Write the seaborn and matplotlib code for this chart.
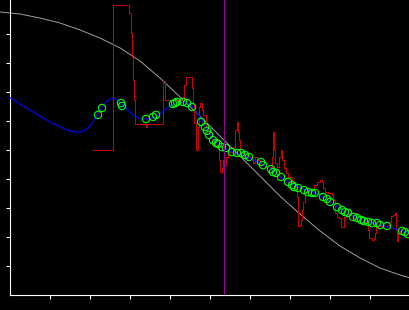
import matplotlib
matplotlib.use("Agg")
import matplotlib.pyplot as plt
import seaborn as sns

# ---------------- data ----------------
# reference (gray) curve
gray_x = [-2.5, 2.5, 7.5, 12.5, 17.5, 22.5, 27.5, 32.5, 37.5, 42.5, 47.5, 52.5,
          57.5, 62.5, 67.5, 72.5, 77.5, 82.5, 87.5, 92.5, 97.5, 100.0]
gray_y = [97.6, 96.9, 95.5, 93.8, 91.4, 88.6, 85.2, 80.7, 74.8, 68.3, 61.7, 54.8,
          47.9, 41.0, 34.1, 27.9, 22.1, 16.9, 12.8, 9.3, 6.9, 5.9]

# smoothed (blue) curve
blue_x = [0, 2.5, 5.75, 10, 14.25, 16.25, 18, 19.5, 20.75, 21.75, 23.25, 24.5, 25.5,
          26.5, 28.25, 29.5, 30.75, 32, 34.25, 36.75, 38.25, 40, 41.75, 43.75, 45.5,
          47.5, 49.25, 50.75, 52.5, 55, 58.75, 62.5, 65, 67.5, 70, 72.5, 76.25, 78.75,
          81.25, 83.75, 86.25, 89.5, 92.5, 95.5, 98, 100]
blue_y = [68.0, 65.9, 63.1, 59.7, 56.9, 56.2, 56.2, 57.6, 59.7, 62.1, 65.2, 67.2, 67.8,
          67.6, 65.5, 63.8, 62.1, 61.0, 60.7, 61.4, 63.4, 65.2, 66.4, 66.6, 65.2,
          61.4, 57.2, 53.8, 51.4, 49.7, 47.9, 45.5, 43.8, 40.7, 38.6, 36.9, 35.2, 33.4,
          31.0, 28.6, 26.9, 25.2, 24.1, 23.1, 22.1, 21.0]

# sample points (green circles)
pts_x = [22, 23, 27.75, 28, 34, 35.75, 36.5, 40.75, 41.25, 41.75, 43.25, 44.25, 45.5,
         47.75, 48.75, 49.25, 49.75, 50.75, 51.5, 52, 53, 54, 55.5, 56.75, 57.75, 58.75,
         59.75, 62.75, 63.25, 65.25, 65.75, 66.5, 67.75, 69.5, 70.5, 71, 72, 73.5, 74.5,
         75.5, 76.25, 78.25, 79.25, 80, 81.75, 83, 83.75, 84.5, 85.75, 86.75, 87.75,
         88.5, 89.5, 90.5, 91.75, 92.5, 94.25, 98, 98.75, 99.5]
pts_y = [62.1, 64.5, 66.2, 65.2, 60.7, 61.4, 62.1, 65.9, 66.2, 66.6, 66.6, 66.2, 64.8,
         59.7, 57.9, 56.6, 55.2, 53.4, 52.4, 52.1, 51.0, 50.7, 49.3, 49.0, 49.0, 48.3,
         47.6, 45.9, 44.8, 43.4, 42.4, 42.1, 40.7, 39.0, 37.9, 37.2, 36.9, 36.2, 35.5,
         35.2, 35.2, 33.8, 33.1, 32.1, 30.3, 29.3, 28.6, 28.3, 26.9, 26.6, 25.9,
         25.5, 25.2, 24.8, 24.8, 24.1, 23.8, 22.1, 21.7, 21.0]

# raw signal (red, stepped)
red_x = [20.75, 25.75, 25.75, 29.75, 29.75, 30.25, 30.25, 30.5, 30.5, 30.75, 30.75, 31.0,
         31.0, 31.25, 31.25, 33.75, 34.0, 34.25, 38.0, 38.25, 38.25, 38.5, 38.75, 43.25,
         43.5, 44.0, 45.25, 45.5, 45.75, 46.0, 46.5, 47.0, 47.0, 47.25, 47.5, 48.0, 48.25,
         49.0, 49.5, 50.5, 51.25, 52.0, 52.25, 52.5, 53.0, 53.25, 53.5, 54.0, 54.5, 55.5,
         55.75, 56.25, 56.75, 57.0, 57.25, 57.5, 58.25, 59.5, 60.5, 60.75, 61.25, 61.75,
         62.5, 63.75, 65.25, 65.5, 65.75, 66.0, 66.25, 66.75, 67.25, 67.75, 68.0, 68.5,
         69.0, 69.5, 70.5, 71.25, 71.75, 72.0, 72.5, 72.75, 73.0, 73.25, 73.75, 74.5,
         75.5, 76.0, 76.75, 77.5, 78.0, 78.25, 78.75, 79.5, 80.5, 80.75, 81.25, 81.75,
         82.25, 82.75, 83.25, 83.5, 84.25, 85.0, 85.75, 86.25, 86.75, 87.5, 88.25, 89.25,
         89.5, 89.75, 90.5, 91.0, 91.25, 91.5, 92.0, 93.25, 94.25, 94.75, 95.25, 95.75,
         96.25, 96.5, 96.75, 97.0, 97.5, 98.25, 99.25, 100.0]
red_y = [50.0, 50.0, 100.0, 100.0, 97.2, 97.2, 90.3, 90.3, 82.1, 82.1, 74.1, 74.1,
         67.2, 67.2, 59.0, 59.0, 57.9, 59.0, 59.0, 60.3, 73.8, 73.8, 67.2, 67.2,
         72.4, 75.2, 75.2, 71.4, 66.2, 59.3, 50.0, 50.0, 57.9, 64.8, 66.2, 63.8, 62.1,
         57.9, 56.2, 53.4, 51.7, 50.7, 46.6, 42.4, 43.8, 46.6, 44.8, 47.6, 49.3, 49.3,
         51.0, 56.9, 59.7, 56.2, 53.4, 49.0, 48.3, 47.6, 46.6, 45.5, 47.6, 46.6,
         44.8, 44.1, 43.8, 47.6, 56.2, 50.0, 45.5, 44.1, 47.6, 50.0, 46.6, 43.8,
         42.1, 40.7, 39.0, 37.2, 33.8, 23.8, 24.1, 25.9, 29.3, 32.1, 35.2, 35.9,
         36.2, 37.9, 39.0, 39.7, 39.0, 36.9, 35.5, 35.2, 34.5, 32.8, 28.3, 26.9,
         26.6, 23.4, 23.4, 26.9, 28.3, 27.6, 26.6, 28.3, 26.9, 25.9, 25.2, 24.8,
         22.4, 19.7, 19.0, 19.3, 21.4, 23.4, 23.8, 23.8, 24.1, 25.2, 27.2, 27.6,
         28.3, 22.4, 18.6, 21.4, 22.4, 21.7, 21.4, 20.7]

marker_x = 53.5
ticks = [10, 20, 30, 40, 50, 60, 70, 80, 90]

# ---------------- style ----------------
sns.set_style("ticks", rc={
    "axes.facecolor": "black",
    "figure.facecolor": "black",
    "axes.edgecolor": "white",
    "xtick.color": "white",
    "ytick.color": "white",
})

fig = plt.figure(figsize=(4.1, 3.1), dpi=100)
ax = fig.add_axes([10 / 410, 15 / 310, 400 / 410, 295 / 310])
ax.set_facecolor("black")

sns.lineplot(x=gray_x, y=gray_y, ax=ax, color="#a0a0a0", linewidth=0.7,
             estimator=None, sort=False, clip_on=False, zorder=2)
sns.lineplot(x=red_x, y=red_y, ax=ax, color="#cc0000", linewidth=0.7,
             estimator=None, sort=False, drawstyle="steps-post", antialiased=False, zorder=3)
sns.lineplot(x=blue_x, y=blue_y, ax=ax, color="#0000ff", linewidth=0.85,
             estimator=None, sort=False, zorder=4)
sns.scatterplot(x=pts_x, y=pts_y, ax=ax, marker="o", s=28, facecolor="none",
                edgecolor="#00ff00", linewidth=0.8, zorder=5, clip_on=False)
ax.axvline(marker_x, color="#990099", linewidth=0.7, antialiased=False, zorder=6)

ax.set_xlim(0, 100)
ax.set_ylim(0, 295 / 2.9)
ax.set_xticks(ticks)
ax.set_yticks(ticks)
ax.set_xticklabels([])
ax.set_yticklabels([])
ax.tick_params(axis="both", direction="out", length=3, width=0.8, colors="white")
for side in ["top", "right"]:
    ax.spines[side].set_visible(False)
for side in ["left", "bottom"]:
    ax.spines[side].set_color("white")
    ax.spines[side].set_linewidth(0.8)
ax.set_xlabel("")
ax.set_ylabel("")

fig.savefig("out.png", dpi=100, facecolor="black")
